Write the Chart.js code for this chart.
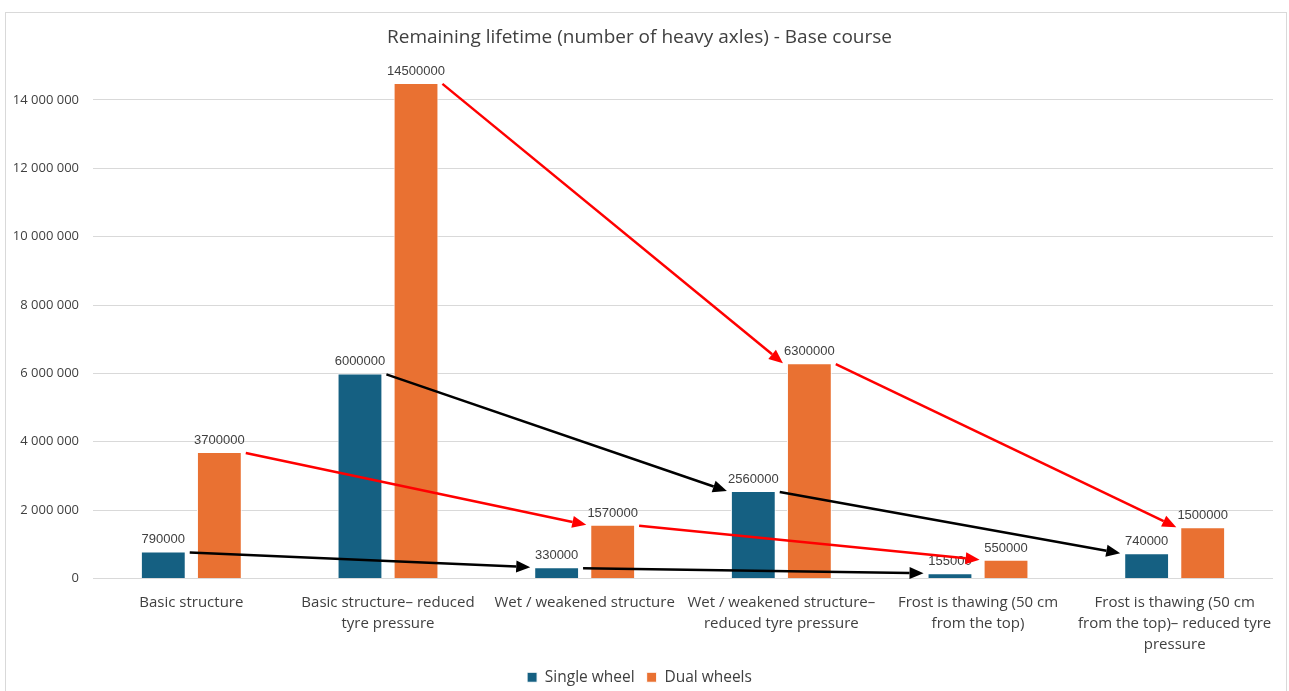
<!DOCTYPE html>
<html>
<head>
<meta charset="utf-8">
<script src="https://cdn.jsdelivr.net/npm/chart.js@4.4.1/dist/chart.umd.min.js"></script>
<style>
  html, body { margin: 0; padding: 0; background: #fff; overflow: hidden; }
  #frame {
    position: absolute; left: 5px; top: 12px;
    width: 1280px; height: 690px;
    border: 1px solid #d9d9d9; background: #fff;
  }
  #chart { display: block; }
</style>
</head>
<body>
<div id="frame"><canvas id="chart" width="1280" height="690"></canvas></div>
<script>
// Scenario categories (x axis)
const categories = [
  ['Basic structure'],
  ['Basic structure\u2013 reduced', 'tyre pressure'],
  ['Wet / weakened structure'],
  ['Wet / weakened structure\u2013', 'reduced tyre pressure'],
  ['Frost is thawing (50 cm', 'from the top)'],
  ['Frost is thawing (50 cm', 'from the top)\u2013 reduced tyre', 'pressure']
];

// Remaining lifetime, number of heavy axles
const singleWheel = [790000, 6000000, 330000, 2560000, 155000, 740000];
const dualWheels  = [3700000, 14500000, 1570000, 6300000, 550000, 1500000];

// Y axis ticks
const yTicks = [0, 2000000, 4000000, 6000000, 8000000, 10000000, 12000000, 14000000];

// Comparison arrows: [from category, to category]
const singleArrows = [[0, 2], [2, 4], [1, 3], [3, 5]];
const dualArrows   = [[0, 2], [2, 4], [1, 3], [3, 5]];

const TEXT = '#404040';
const UI_FONT = "'Open Sans', 'Noto Sans', sans-serif";

function fmtSpace(v) {
  return String(Math.round(v)).replace(/\B(?=(\d{3})+(?!\d))/g, ' ');
}

// Value labels above each bar
const valueLabels = {
  id: 'valueLabels',
  afterDatasetsDraw(chart) {
    const ctx = chart.ctx;
    ctx.save();
    ctx.font = "13px 'Liberation Sans', Arial, sans-serif";
    ctx.fillStyle = TEXT;
    ctx.textAlign = 'center';
    ctx.textBaseline = 'alphabetic';
    chart.data.datasets.forEach((ds, di) => {
      chart.getDatasetMeta(di).data.forEach((bar, i) => {
        ctx.fillText(String(ds.data[i]), bar.x, bar.y - 8);
      });
    });
    ctx.restore();
  }
};

// Arrows linking bars of the same series between scenarios
const linkArrows = {
  id: 'linkArrows',
  afterDatasetsDraw(chart) {
    const ctx = chart.ctx;
    const draw = (meta, pairs, color) => {
      pairs.forEach(([a, b]) => {
        const s = meta.data[a], t = meta.data[b];
        const x1 = s.x + s.width / 2 + 4, y1 = s.y + 1;
        const x2 = t.x - t.width / 2 - 4, y2 = t.y;
        const ang = Math.atan2(y2 - y1, x2 - x1);
        const len = 14, half = 6;
        const bx = x2 - len * Math.cos(ang), by = y2 - len * Math.sin(ang);
        ctx.strokeStyle = color;
        ctx.fillStyle = color;
        ctx.lineWidth = 2.5;
        ctx.beginPath();
        ctx.moveTo(x1, y1);
        ctx.lineTo(bx, by);
        ctx.stroke();
        ctx.beginPath();
        ctx.moveTo(x2, y2);
        ctx.lineTo(bx + half * Math.sin(ang), by - half * Math.cos(ang));
        ctx.lineTo(bx - half * Math.sin(ang), by + half * Math.cos(ang));
        ctx.closePath();
        ctx.fill();
      });
    };
    ctx.save();
    draw(chart.getDatasetMeta(0), singleArrows, '#000000');
    draw(chart.getDatasetMeta(1), dualArrows, '#ff0000');
    ctx.restore();
  }
};

new Chart(document.getElementById('chart'), {
  type: 'bar',
  data: {
    labels: categories,
    datasets: [
      {
        label: 'Single wheel',
        data: singleWheel,
        backgroundColor: '#156082',
        borderColor: '#ffffff',
        borderWidth: 1,
        categoryPercentage: 0.57,
        barPercentage: 0.8
      },
      {
        label: 'Dual wheels',
        data: dualWheels,
        backgroundColor: '#e97132',
        borderColor: '#ffffff',
        borderWidth: 1,
        categoryPercentage: 0.57,
        barPercentage: 0.8
      }
    ]
  },
  options: {
    responsive: false,
    animation: false,
    layout: { padding: { left: 0, right: 13, top: 0, bottom: 8 } },
    plugins: {
      title: {
        display: true,
        text: 'Remaining lifetime (number of heavy axles) - Base course',
        color: TEXT,
        font: { family: UI_FONT, size: 19, weight: 'normal' },
        padding: { top: 13, bottom: 17 }
      },
      legend: {
        position: 'bottom',
        labels: {
          color: TEXT,
          font: { family: UI_FONT, size: 15.5 },
          boxWidth: 10,
          boxHeight: 10,
          padding: 12
        }
      },
      tooltip: { enabled: false }
    },
    scales: {
      x: {
        grid: { display: false },
        border: { display: false },
        ticks: {
          color: TEXT,
          font: { family: UI_FONT, size: 15, lineHeight: 1.4 },
          padding: 6,
          maxRotation: 0,
          autoSkip: false
        },
        afterFit(scale) { scale.height = 79; }
      },
      y: {
        min: 0,
        max: 15000000,
        afterBuildTicks(scale) {
          scale.ticks = yTicks.map(v => ({ value: v }));
        },
        grid: { color: '#d9d9d9', lineWidth: 1, drawTicks: false },
        border: { display: false },
        ticks: {
          color: TEXT,
          font: { family: UI_FONT, size: 13 },
          padding: 14,
          callback: v => fmtSpace(v)
        },
        afterFit(scale) { scale.width = 87; }
      }
    }
  },
  plugins: [valueLabels, linkArrows]
});
</script>
</body>
</html>
